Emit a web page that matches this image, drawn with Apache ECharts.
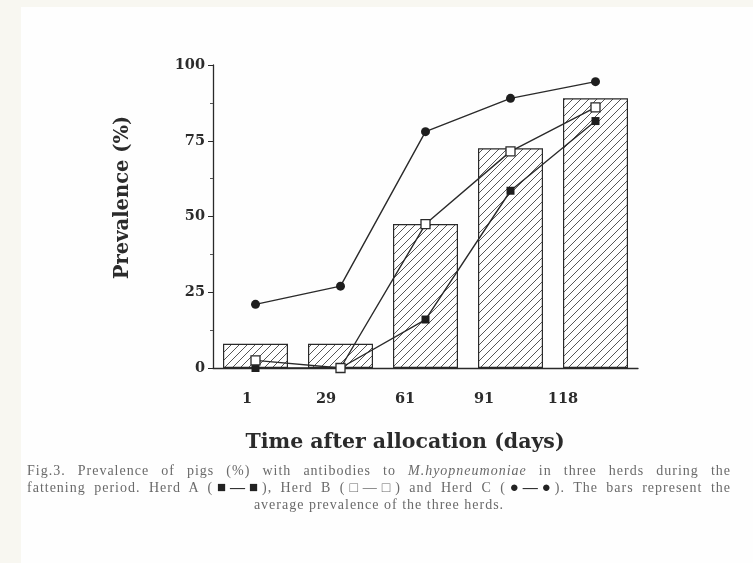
<!DOCTYPE html>
<html>
<head>
<meta charset="utf-8">
<script src="https://cdn.jsdelivr.net/npm/echarts@6/dist/echarts.min.js"></script>
<style>
  html, body { margin:0; padding:0; background:#f8f7f1; }
  #panel { position:absolute; left:21px; top:7px; right:0; bottom:0; background:#fefefe; }
  #chart { position:absolute; left:0; top:0; width:753px; height:563px; }
  #caption { position:absolute; left:27px; top:462px; width:704px; font-family:"Liberation Serif", serif;
    font-size:14px; line-height:17px; color:#6a6a6a; letter-spacing:1px; }
  #caption .l { display:block; text-align:justify; text-align-last:justify; }
  #caption .c { display:block; text-align:center; }
  #caption b { font-size:15px; color:#222; letter-spacing:0; }
</style>
</head>
<body>
<div id="panel"></div>
<div id="chart"></div>
<div id="caption">
  <span class="l">Fig.3. Prevalence of pigs (%) with antibodies to <i>M.hyopneumoniae</i> in three herds during the</span>
  <span class="l">fattening period. Herd A (<b>■—■</b>), Herd B (□—□) and Herd C (<b>●—●</b>). The bars represent the</span>
  <span class="c">average prevalence of the three herds.</span>
</div>
<script>
const categories = ['1', '29', '61', '91', '118'];
const averageBars = [8, 8, 47.5, 72.5, 89];
const herdA = [0, 0, 16, 58.5, 81.5];
const herdB = [2.5, 0, 47.5, 71.5, 86];
const herdC = [21, 27, 78, 89, 94.5];
const yTicks = [0, 25, 50, 75, 100];

function hatch() {
  const s = 8;
  const c = document.createElement('canvas');
  c.width = s; c.height = s;
  const g = c.getContext('2d');
  g.fillStyle = '#ffffff'; g.fillRect(0, 0, s, s);
  g.strokeStyle = '#444444'; g.lineWidth = 0.9;
  g.beginPath();
  g.moveTo(-1, s + 1); g.lineTo(s + 1, -1);
  g.moveTo(-1, 1); g.lineTo(1, -1);
  g.moveTo(s - 1, s + 1); g.lineTo(s + 1, s - 1);
  g.stroke();
  return c;
}

const serifBold = { fontFamily: 'DejaVu Serif', fontWeight: 'bold', color: '#2b2b2b' };
const chart = echarts.init(document.getElementById('chart'), null, { renderer: 'canvas' });
const lineStyle = { color: '#2a2a2a', width: 1.4 };
chart.setOption({
  animation: false,
  backgroundColor: 'transparent',
  grid: [
    { left: 213, right: 115, top: 65, bottom: 195 },
    { left: 207.5, right: 150.5, top: 65, bottom: 195 }
  ],
  xAxis: [
    { type: 'category', gridIndex: 0, data: categories,
      axisLine: { lineStyle: { color: '#2a2a2a', width: 1.3 } },
      axisTick: { show: false }, axisLabel: { show: false } },
    { type: 'category', gridIndex: 1, data: categories,
      axisLine: { show: false }, axisTick: { show: false },
      axisLabel: Object.assign({ fontSize: 14.5, margin: 24 }, serifBold),
      name: 'Time after allocation (days)', nameLocation: 'middle', nameGap: 64,
      nameTextStyle: Object.assign({ fontSize: 20.5 }, serifBold) }
  ],
  yAxis: [
    { type: 'value', gridIndex: 0, min: 0, max: 100, interval: 25,
      axisLine: { show: true, lineStyle: { color: '#2a2a2a', width: 1.3 } },
      axisTick: { show: true, length: 5, lineStyle: { color: '#2a2a2a' } },
      minorTick: { show: true, splitNumber: 2, length: 3, lineStyle: { color: '#555' } },
      splitLine: { show: false },
      axisLabel: Object.assign({ fontSize: 14.5, margin: 8,
        formatter: v => yTicks.indexOf(v) >= 0 ? String(v) : '' }, serifBold),
      name: 'Prevalence (%)', nameLocation: 'middle', nameGap: 80,
      nameTextStyle: Object.assign({ fontSize: 19.5, padding: [0, 0, 0, 38] }, serifBold) },
    { type: 'value', gridIndex: 1, min: 0, max: 100, show: false }
  ],
  series: [
    { type: 'bar', name: 'Average', data: averageBars, barWidth: 65, z: 1,
      itemStyle: { color: { image: hatch(), repeat: 'repeat' }, borderColor: '#2a2a2a', borderWidth: 1.2 } },
    { type: 'line', name: 'Herd C', data: herdC, symbol: 'circle', symbolSize: 9, z: 3,
      lineStyle: lineStyle, itemStyle: { color: '#1e1e1e' } },
    { type: 'line', name: 'Herd A', data: herdA, symbol: 'rect', symbolSize: 8, z: 3,
      lineStyle: lineStyle, itemStyle: { color: '#1e1e1e' } },
    { type: 'line', name: 'Herd B', data: herdB, symbol: 'rect', symbolSize: 9, z: 4,
      lineStyle: lineStyle, itemStyle: { color: '#ffffff', borderColor: '#2a2a2a', borderWidth: 1.3 } }
  ]
});
</script>
</body>
</html>
